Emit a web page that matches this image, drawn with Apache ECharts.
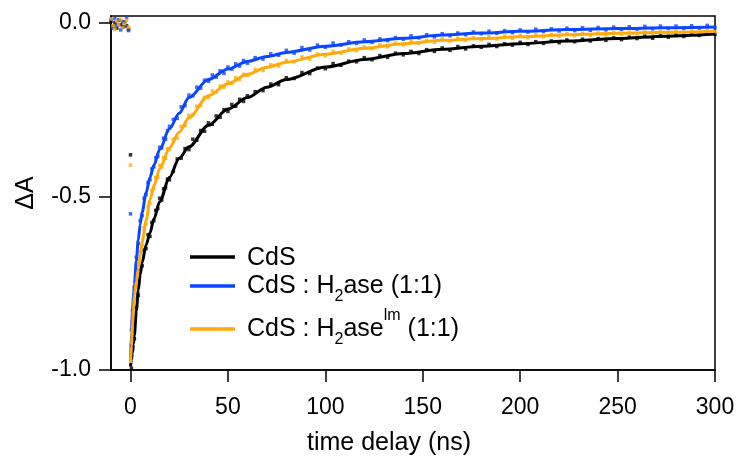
<!DOCTYPE html>
<html><head><meta charset="utf-8">
<script src="https://cdn.jsdelivr.net/npm/echarts@6/dist/echarts.min.js"></script>
<style>html,body{margin:0;padding:0;background:#fff}#c{width:738px;height:461px}</style>
</head><body><div id="c"></div>
<script>
// ---- axis ticks ----
const xTicks = [0, 50, 100, 150, 200, 250, 300];
const yTicks = [-1, -0.5, 0];

// ---- fitted curves (time in ns, ΔA) ----
const fitT   = [0,0.5,1,1.5,2,3,4,5,6,8,10,12,15,20,25,30,40,50,60,70,80,100,120,140,160,180,200,225,250,275,300];
const fitCdS = [-0.99,-0.97,-0.95,-0.925,-0.90,-0.83,-0.77,-0.725,-0.69,-0.64,-0.605,-0.565,-0.515,-0.445,-0.39,-0.357,-0.295,-0.248,-0.215,-0.185,-0.163,-0.127,-0.105,-0.088,-0.076,-0.067,-0.060,-0.052,-0.045,-0.038,-0.032];
const fitH2  = [-0.98,-0.89,-0.835,-0.79,-0.755,-0.685,-0.625,-0.58,-0.545,-0.49,-0.445,-0.41,-0.365,-0.305,-0.26,-0.215,-0.163,-0.133,-0.111,-0.097,-0.085,-0.067,-0.054,-0.044,-0.035,-0.029,-0.024,-0.019,-0.016,-0.014,-0.012];
const fitLm  = [-0.98,-0.93,-0.87,-0.825,-0.785,-0.745,-0.71,-0.67,-0.63,-0.57,-0.51,-0.47,-0.42,-0.36,-0.315,-0.273,-0.21,-0.175,-0.148,-0.128,-0.113,-0.09,-0.073,-0.06,-0.05,-0.045,-0.04,-0.034,-0.03,-0.027,-0.024];

// ---- measured points ----
const ptT = [-10,-9,-8,-7,-6,-5,-4,-3,-2,-1,
  0,0.5,
  1,2,3,4,5,6,7,8,9,10,11,12,13,14,15,16,17,18,19,20,
  22,24,26,28,30,32,34,36,38,40,42,44,46,48,50,52,54,56,58,60,
  64,68,72,76,80,84,88,92,96,100,104,108,112,116,120,124,128,132,136,140,144,148,152,156,160,164,168,172,176,180,184,188,192,196,200,204,208,212,216,220,224,228,232,236,240,244,248,252,256,260,264,268,272,276,280,284,288,292,296,300];

const ptCdS = [0.005,-0.01,0.0,-0.015,0.008,-0.005,-0.012,0.002,-0.008,-0.018,
  -0.38,-0.995,
  -0.94,-0.91,-0.82,-0.785,-0.71,-0.70,-0.655,-0.65,-0.61,-0.615,-0.575,-0.57,-0.54,-0.535,-0.505,-0.51,-0.478,-0.475,-0.45,-0.452,
  -0.428,-0.392,-0.39,-0.362,-0.365,-0.335,-0.338,-0.31,-0.312,-0.288,-0.292,-0.268,-0.272,-0.25,-0.255,-0.235,-0.24,-0.22,-0.226,-0.21,
  -0.198,-0.195,-0.176,-0.178,-0.158,-0.16,-0.143,-0.146,-0.13,-0.132,-0.117,-0.122,-0.11,-0.112,-0.1,-0.106,-0.094,-0.099,-0.087,-0.092,
  -0.082,-0.088,-0.077,-0.082,-0.072,-0.079,-0.068,-0.075,-0.066,-0.07,-0.062,-0.068,-0.06,-0.064,-0.056,-0.062,-0.054,-0.059,-0.052,-0.057,
  -0.049,-0.054,-0.047,-0.052,-0.045,-0.05,-0.043,-0.048,-0.041,-0.045,-0.038,-0.044,-0.037,-0.041,-0.034,-0.039,-0.032,-0.036,-0.031,-0.033];

const ptH2 = [0.01,-0.015,0.012,-0.005,0.008,-0.02,0.004,-0.01,0.015,-0.022,
  -0.55,-0.885,
  -0.83,-0.76,-0.675,-0.635,-0.57,-0.555,-0.505,-0.495,-0.46,-0.452,-0.42,-0.415,-0.388,-0.385,-0.358,-0.36,-0.332,-0.335,-0.31,-0.298,
  -0.278,-0.275,-0.242,-0.238,-0.208,-0.21,-0.185,-0.188,-0.165,-0.168,-0.15,-0.156,-0.138,-0.145,-0.127,-0.133,-0.118,-0.124,-0.108,-0.116,
  -0.1,-0.104,-0.089,-0.093,-0.079,-0.087,-0.071,-0.078,-0.064,-0.07,-0.058,-0.064,-0.054,-0.059,-0.049,-0.056,-0.046,-0.051,-0.042,-0.047,
  -0.037,-0.043,-0.034,-0.04,-0.031,-0.037,-0.029,-0.034,-0.026,-0.031,-0.024,-0.03,-0.022,-0.028,-0.02,-0.026,-0.018,-0.025,-0.017,-0.023,
  -0.015,-0.022,-0.014,-0.021,-0.013,-0.02,-0.012,-0.019,-0.011,-0.018,-0.01,-0.017,-0.009,-0.016,-0.009,-0.016,-0.008,-0.015,-0.007,-0.014];

const ptLm = [0.012,-0.008,-0.018,0.006,-0.004,0.01,-0.014,-0.002,0.008,-0.012,
  -0.41,-0.93,
  -0.86,-0.795,-0.735,-0.72,-0.66,-0.64,-0.59,-0.58,-0.53,-0.52,-0.482,-0.478,-0.445,-0.445,-0.41,-0.415,-0.388,-0.39,-0.362,-0.365,
  -0.335,-0.332,-0.298,-0.295,-0.266,-0.265,-0.24,-0.238,-0.215,-0.215,-0.196,-0.2,-0.182,-0.186,-0.17,-0.174,-0.158,-0.163,-0.148,-0.152,
  -0.134,-0.137,-0.12,-0.124,-0.108,-0.112,-0.098,-0.104,-0.09,-0.095,-0.082,-0.087,-0.075,-0.08,-0.069,-0.074,-0.063,-0.069,-0.058,-0.063,
  -0.054,-0.059,-0.05,-0.056,-0.046,-0.052,-0.044,-0.05,-0.042,-0.048,-0.04,-0.046,-0.038,-0.044,-0.036,-0.043,-0.034,-0.04,-0.033,-0.038,
  -0.031,-0.037,-0.03,-0.036,-0.029,-0.035,-0.028,-0.033,-0.027,-0.032,-0.026,-0.031,-0.025,-0.03,-0.024,-0.029,-0.023,-0.028,-0.022,-0.026];

const names = ['CdS', 'CdS : H2ase (1:1)', 'CdS : H2ase-lm (1:1)'];
const colors = ['#000000', '#0A46FF', '#FFAA0A'];

const FONT = '"Liberation Sans", Arial, Helvetica, sans-serif';
const pair = (xs, ys) => xs.map((x, i) => [x, ys[i]]);

const chart = echarts.init(document.getElementById('c'), null, {renderer: 'canvas'});

const scatterSeries = [ptCdS, ptH2, ptLm].map((vals, i) => ({
  type: 'scatter', name: names[i] + ' data', data: pair(ptT, vals),
  symbol: 'rect', symbolSize: 3.5, itemStyle: {color: colors[i]}, z: 2, silent: true
}));
const lineSeries = [fitCdS, fitH2, fitLm].map((vals, i) => ({
  type: 'line', name: names[i], data: pair(fitT, vals), showSymbol: false,
  smooth: 0.3, smoothMonotone: 'x',
  lineStyle: {color: colors[i], width: 3}, itemStyle: {color: colors[i]}, z: 3, silent: true
}));

const rich = {
  m:   {fontSize: 25, lineHeight: 25, padding: [9, 0, 0, 0], verticalAlign: 'top', fill: '#000', fontFamily: FONT},
  sup: {fontSize: 16, lineHeight: 16, verticalAlign: 'top', fill: '#000', fontFamily: FONT},
  sub: {fontSize: 16, lineHeight: 16, padding: [24, 0, 0, 0], verticalAlign: 'top', fill: '#000', fontFamily: FONT}
};
const legendRows = [
  {y: 257, ty: 237, text: '{m|CdS}'},
  {y: 286, ty: 265, text: '{m|CdS : H}{sub|2}{m|ase (1:1)}'},
  {y: 329, ty: 308, text: '{m|CdS : H}{sub|2}{m|ase}{sup|lm}{m| (1:1)}'}
];
const graphics = [];
legendRows.forEach((r, i) => {
  graphics.push({type: 'line', shape: {x1: 190, y1: r.y, x2: 235, y2: r.y},
    style: {stroke: colors[i], lineWidth: 3.5}, z: 10});
  graphics.push({type: 'text', x: 247, y: r.ty, z: 10,
    style: {text: r.text, rich: rich, verticalAlign: 'top', align: 'left', fill: '#000', font: '25px ' + FONT}});
});

chart.setOption({
  animation: false,
  backgroundColor: '#fff',
  textStyle: {fontFamily: FONT, color: '#000'},
  grid: {left: 111, top: 16, width: 604, height: 363, show: true, borderColor: '#000', borderWidth: 1.5},
  xAxis: {
    type: 'value', min: -10, max: 300,
    axisLine: {show: true, onZero: false, lineStyle: {color: '#000', width: 1.5}},
    axisTick: {show: true, inside: false, length: 12, customValues: xTicks, lineStyle: {color: '#000', width: 1.5}},
    axisLabel: {customValues: xTicks, fontSize: 23, color: '#000', margin: 26, fontFamily: FONT},
    splitLine: {show: false},
    name: 'time delay (ns)', nameLocation: 'middle', nameGap: 61,
    nameTextStyle: {fontSize: 25, color: '#000', fontFamily: FONT, padding: [0, 48, 0, 0]}
  },
  yAxis: {
    type: 'value', min: -1, max: 0.02,
    axisLine: {show: true, onZero: false, lineStyle: {color: '#000', width: 1.5}},
    axisTick: {show: true, inside: false, length: 12, customValues: yTicks, lineStyle: {color: '#000', width: 1.5}},
    axisLabel: {customValues: yTicks, fontSize: 23, color: '#000', margin: 20, fontFamily: FONT,
      formatter: v => v.toFixed(1)},
    splitLine: {show: false},
    name: 'ΔA', nameLocation: 'middle', nameRotate: 90, nameGap: 72,
    nameTextStyle: {fontSize: 25, color: '#000', fontFamily: FONT}
  },
  series: scatterSeries.concat(lineSeries),
  graphic: graphics
});
</script>
</body></html>
